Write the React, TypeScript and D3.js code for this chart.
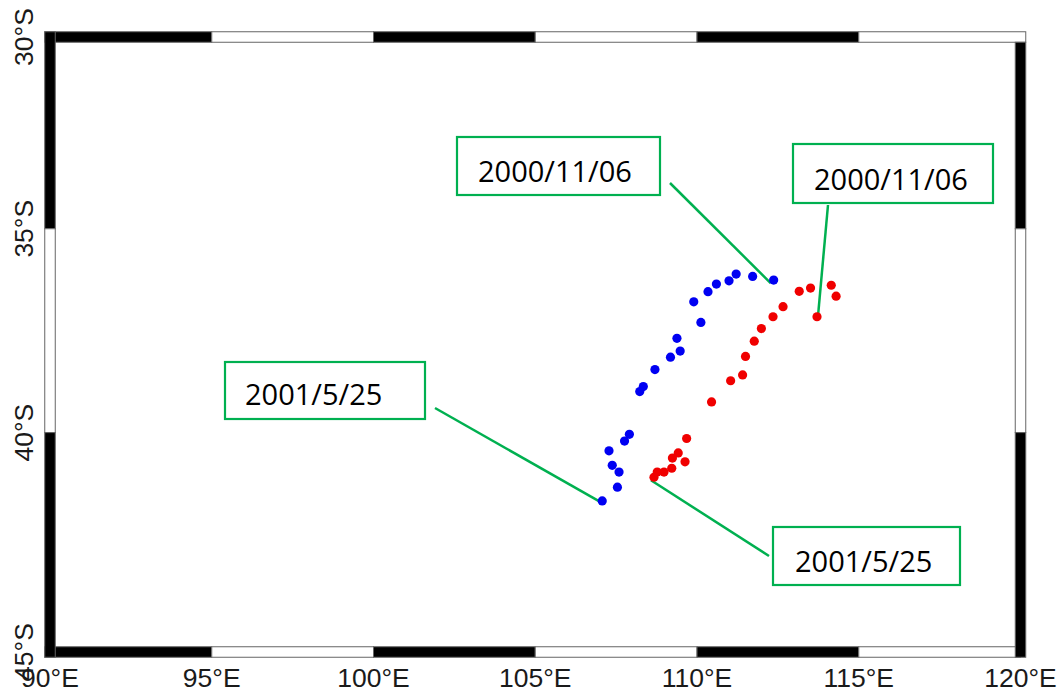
import React from "react";
import * as d3 from "d3";

// Map extent and graticule ticks
const lonTicks = [90, 95, 100, 105, 110, 115, 120];
const latTicks = [-30, -35, -40, -45];

// Blue track (lon °E, lat °)
const blueLon = [112.37, 111.72, 111.21, 110.99, 110.6, 110.34, 109.9, 110.12, 109.38, 109.48, 109.18, 108.7, 108.34, 108.23, 107.91, 107.76, 107.28, 107.38, 107.59, 107.54, 107.07];
const blueLat = [-36.29, -36.2, -36.14, -36.31, -36.39, -36.58, -36.83, -37.34, -37.73, -38.04, -38.19, -38.49, -38.9, -39.02, -40.04, -40.2, -40.43, -40.77, -40.93, -41.28, -41.6];

// Red track
const redLon = [113.71, 113.16, 113.51, 114.15, 114.3, 112.66, 112.35, 111.99, 111.77, 111.5, 111.41, 111.04, 110.45, 109.68, 109.42, 109.24, 109.63, 109.22, 108.98, 108.77, 108.67];
const redLat = [-37.2, -36.57, -36.49, -36.42, -36.69, -36.95, -37.2, -37.49, -37.8, -38.17, -38.62, -38.76, -39.27, -40.14, -40.48, -40.6, -40.69, -40.84, -40.93, -40.93, -41.05];

// Annotation labels
const annoText = ["2000/11/06", "2000/11/06", "2001/5/25", "2001/5/25"];
const annoSeries = ["blue", "red", "blue", "red"];
const annoIndex = [0, 0, 20, 20];

const merc = (lat: number) => Math.log(Math.tan(Math.PI / 4 + (lat * Math.PI) / 360));

export default function App() {
  const W = 1064, H = 693;
  const x0 = 50, x1 = 1020.5, y0 = 37, y1 = 652;
  const xs = d3.scaleLinear().domain([90, 120]).range([x0, x1]);
  const ym = d3.scaleLinear().domain([merc(-30), merc(-45)]).range([y0, y1]);
  const ys = (lat: number) => ym(merc(lat));

  const bw = 10.5;
  const green = "#00b050";

  // frame segments
  const hSegs = d3.pairs(lonTicks).map(([a, b], i) => ({ a: xs(a), b: xs(b), black: i % 2 === 0, i }));
  const vSegs = d3.pairs(latTicks).map(([a, b], i) => ({ a: ys(a), b: ys(b), black: i % 2 === 0, i }));
  const last = (arr: any[], i: number) => i === arr.length - 1;

  const boxes = [
    { x: 457, y: 137, w: 203, h: 58, tx: 478, ty: 182, lx: 670, ly: 183, dx: -3, dy: 3 },
    { x: 793, y: 144, w: 200, h: 59, tx: 814, ty: 190, lx: 828, ly: 205, dx: 1, dy: -1 },
    { x: 225, y: 362, w: 200, h: 57, tx: 245, ty: 405, lx: 435, ly: 408, dx: -2, dy: 1 },
    { x: 773, y: 527, w: 187, h: 58, tx: 795, ty: 572, lx: 769, ly: 556, dx: -3, dy: 3 },
  ];

  const blue = blueLon.map((lon, i) => [xs(lon), ys(blueLat[i])]);
  const red = redLon.map((lon, i) => [xs(lon), ys(redLat[i])]);

  return (
    <svg width={W} height={H} style={{ position: "absolute", left: 0, top: 0, background: "#fff" }}>
      <rect x={0} y={0} width={W} height={H} fill="#fff" />
      {/* annotation lines */}
      {boxes.map((b, k) => {
        const pts = annoSeries[k] === "blue" ? blue : red;
        const p = pts[annoIndex[k]];
        return (
          <line key={"l" + k} x1={b.lx} y1={b.ly} x2={p[0] + b.dx} y2={p[1] + b.dy} stroke={green} strokeWidth={2.5} />
        );
      })}
      {/* dots */}
      {blue.map((p, i) => (
        <circle key={"b" + i} cx={p[0]} cy={p[1]} r={4.6} fill="#0000f2" />
      ))}
      {red.map((p, i) => (
        <circle key={"r" + i} cx={p[0]} cy={p[1]} r={4.6} fill="#f00000" />
      ))}
      {/* boxes */}
      {boxes.map((b, k) => (
        <g key={"bx" + k}>
          <rect x={b.x} y={b.y} width={b.w} height={b.h} fill="#fff" stroke={green} strokeWidth={2.2} />
          <text x={b.tx} y={b.ty} fontFamily="'Open Sans', sans-serif" fontSize={29} fill="#000">
            {annoText[k]}
          </text>
        </g>
      ))}
      {/* frame: top and bottom */}
      {hSegs.map((s) => (
        <g key={"h" + s.i}>
          <rect
            x={s.i === 0 ? x0 - bw / 2 : s.a}
            y={y0 - bw / 2}
            width={(last(hSegs, s.i) ? x1 + bw / 2 : s.b) - (s.i === 0 ? x0 - bw / 2 : s.a)}
            height={bw}
            fill={s.black ? "#000" : "#fff"}
            stroke="#666"
            strokeWidth={1}
          />
          <rect
            x={s.i === 0 ? x0 - bw / 2 : s.a}
            y={y1 - bw / 2}
            width={s.b - (s.i === 0 ? x0 - bw / 2 : s.a)}
            height={bw}
            fill={s.black ? "#000" : "#fff"}
            stroke="#666"
            strokeWidth={1}
          />
        </g>
      ))}
      {/* frame: left and right */}
      {vSegs.map((s) => (
        <g key={"v" + s.i}>
          <rect
            x={x0 - bw / 2}
            y={s.i === 0 ? y0 - bw / 2 : s.a}
            width={bw}
            height={(last(vSegs, s.i) ? y1 + bw / 2 : s.b) - (s.i === 0 ? y0 - bw / 2 : s.a)}
            fill={s.black ? "#000" : "#fff"}
            stroke="#666"
            strokeWidth={1}
          />
          <rect
            x={x1 - bw / 2}
            y={s.i === 0 ? y0 + bw / 2 : s.a}
            width={bw}
            height={(last(vSegs, s.i) ? y1 + bw / 2 : s.b) - (s.i === 0 ? y0 + bw / 2 : s.a)}
            fill={s.black ? "#000" : "#fff"}
            stroke="#666"
            strokeWidth={1}
          />
        </g>
      ))}
      {/* tick labels */}
      {lonTicks.map((t) => (
        <text key={"xt" + t} x={xs(t)} y={687} textAnchor="middle" fontFamily="'Liberation Sans', Arial, sans-serif" fontSize={26.5} fill="#1a1a1a">
          {t}°E
        </text>
      ))}
      {latTicks.map((t) => (
        <text
          key={"yt" + t}
          transform={`translate(33,${ys(t)}) rotate(-90)`}
          textAnchor="middle"
          fontFamily="'Liberation Sans', Arial, sans-serif"
          fontSize={26.5}
          fill="#1a1a1a"
        >
          {-t}°S
        </text>
      ))}
    </svg>
  );
}
